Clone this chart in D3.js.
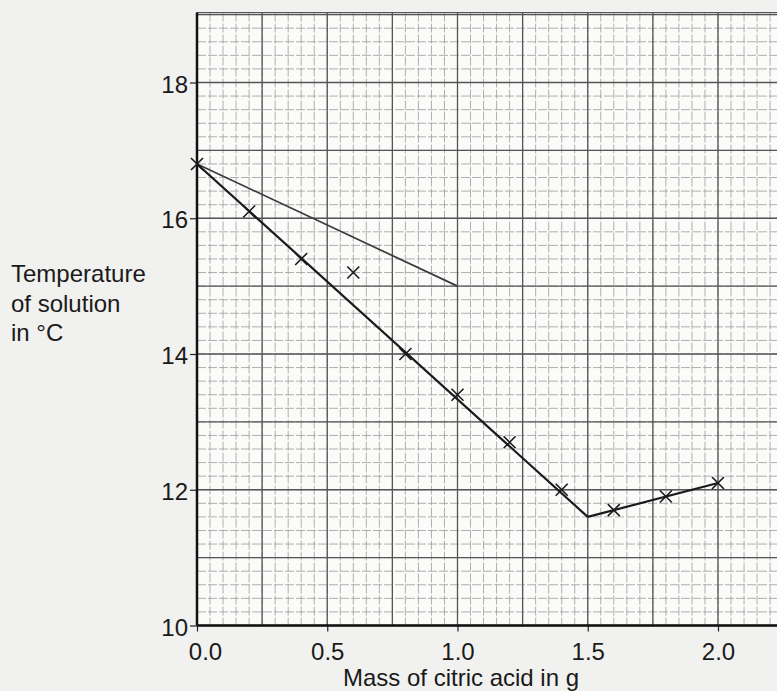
<!DOCTYPE html>
<html>
<head>
<meta charset="utf-8">
<script src="https://cdn.jsdelivr.net/npm/d3@7"></script>
<style>
  html, body { margin: 0; padding: 0; background: #f1f1ef; }
  svg { display: block; font-family: "Liberation Sans", Arial, sans-serif; }
</style>
</head>
<body>
<div id="chart"></div>
<script>
// readings off the graph paper
const mass = [0.0, 0.2, 0.4, 0.6, 0.8, 1.0, 1.2, 1.4, 1.6, 1.8, 2.0];
const temp = [16.8, 16.1, 15.4, 15.2, 14.0, 13.4, 12.7, 12.0, 11.7, 11.9, 12.1];

// hand-drawn lines of best fit
const fallLine = [[0.0, 16.8], [1.5, 11.6]];
const riseLine = [[1.5, 11.6], [2.0, 12.1]];
const roughLine = [[0.0, 16.8], [1.0, 15.0]];

const xTicks = [0.0, 0.5, 1.0, 1.5, 2.0];
const yTicks = [10, 12, 14, 16, 18];

const W = 777, H = 691;
const FONT = "Liberation Sans, Arial, sans-serif";

const x = d3.scaleLinear().domain([0, 2]).range([197, 718]);
const y = d3.scaleLinear().domain([10, 18]).range([625.5, 82.5]);
const xMax = x.invert(W + 5);
const yTop = 19.03;

const svg = d3.select("#chart").append("svg")
  .attr("width", W)
  .attr("height", H)
  .attr("viewBox", [0, 0, W, H]);

svg.append("rect")
  .attr("x", x(0))
  .attr("y", y(yTop))
  .attr("width", W - x(0))
  .attr("height", y(10) - y(yTop))
  .attr("fill", "#fbfbfa");

const gGrid = svg.append("g");

// minor grid: 0.05 g and 0.2 °C
const xMinor = d3.range(0, xMax, 0.05);
const yMinor = d3.range(10, yTop, 0.2);

gGrid.selectAll(".vminor").data(xMinor).join("line")
  .attr("x1", d => x(d)).attr("x2", d => x(d))
  .attr("y1", y(yTop)).attr("y2", y(10))
  .attr("stroke", "#9c9c9c")
  .attr("stroke-width", 0.8)
  .attr("stroke-dasharray", "9 2");

gGrid.selectAll(".hminor").data(yMinor).join("line")
  .attr("x1", x(0)).attr("x2", W)
  .attr("y1", d => y(d)).attr("y2", d => y(d))
  .attr("stroke", "#9c9c9c")
  .attr("stroke-width", 0.8)
  .attr("stroke-dasharray", "9 2");

// major grid: 0.25 g and 1 °C, plus the top edge of the paper grid
const xMajor = d3.range(0, xMax, 0.25);
const yMajor = d3.range(10, 19.001, 1).concat([yTop]);

gGrid.selectAll(".vmajor").data(xMajor).join("line")
  .attr("x1", d => x(d)).attr("x2", d => x(d))
  .attr("y1", y(yTop)).attr("y2", y(10))
  .attr("stroke", "#555")
  .attr("stroke-width", 1.3);

gGrid.selectAll(".hmajor").data(yMajor).join("line")
  .attr("x1", x(0)).attr("x2", W)
  .attr("y1", d => y(d)).attr("y2", d => y(d))
  .attr("stroke", "#555")
  .attr("stroke-width", 1.3);

// axes
const yAxis = d3.axisLeft(y)
  .tickValues(yTicks)
  .tickFormat(d3.format("d"))
  .tickSize(7)
  .tickPadding(2);

const gy = svg.append("g")
  .attr("transform", `translate(${x(0)},0)`)
  .call(yAxis);
gy.select(".domain").remove();
gy.selectAll(".tick line").attr("stroke", "#222").attr("stroke-width", 1.2);
gy.selectAll(".tick text")
  .attr("font-size", 24)
  .attr("dy", "0.4em")
  .attr("fill", "#1a1a1a")
  .attr("font-family", FONT);

const xAxis = d3.axisBottom(x)
  .tickValues(xTicks)
  .tickFormat(d3.format(".1f"))
  .tickSize(6)
  .tickPadding(11);

const gx = svg.append("g")
  .attr("transform", `translate(0,${y(10)})`)
  .call(xAxis);
gx.select(".domain").remove();
gx.selectAll(".tick line").attr("stroke", "#222").attr("stroke-width", 1.2);
gx.selectAll(".tick text")
  .attr("font-size", 24)
  .attr("fill", "#1a1a1a")
  .attr("font-family", FONT);
// the "0.0" label sits clear of the corner
gx.selectAll(".tick text").filter(d => d === 0).attr("dx", 8);

svg.append("line")
  .attr("x1", x(0)).attr("x2", x(0))
  .attr("y1", y(yTop)).attr("y2", y(10))
  .attr("stroke", "#111").attr("stroke-width", 2.5);

svg.append("line")
  .attr("x1", x(0)).attr("x2", W)
  .attr("y1", y(10)).attr("y2", y(10))
  .attr("stroke", "#111").attr("stroke-width", 2.5);

// lines of best fit
const line = d3.line().x(d => x(d[0])).y(d => y(d[1]));

svg.append("path")
  .datum(roughLine)
  .attr("d", line)
  .attr("fill", "none")
  .attr("stroke", "#3a3a3a")
  .attr("stroke-width", 1.7);

[fallLine, riseLine].forEach(seg => {
  svg.append("path")
    .datum(seg)
    .attr("d", line)
    .attr("fill", "none")
    .attr("stroke", "#1a1a1a")
    .attr("stroke-width", 2.2);
});

// plotted crosses
const r = 6;
const pts = mass.map((m, i) => ({ m, t: temp[i] }));
const gPts = svg.append("g")
  .attr("stroke", "#1a1a1a")
  .attr("stroke-width", 1.6);

gPts.selectAll("path").data(pts).join("path")
  .attr("d", d => {
    const cx = x(d.m), cy = y(d.t);
    return `M${cx - r},${cy - r}L${cx + r},${cy + r}M${cx - r},${cy + r}L${cx + r},${cy - r}`;
  });

// axis titles
svg.append("text")
  .attr("x", 461)
  .attr("y", 686)
  .attr("text-anchor", "middle")
  .attr("font-size", 24)
  .attr("fill", "#1a1a1a")
  .text("Mass of citric acid in g");

const yTitle = svg.append("text")
  .attr("x", 11)
  .attr("y", 282)
  .attr("font-size", 24)
  .attr("fill", "#1a1a1a");

["Temperature", "of solution", "in °C"].forEach((s, i) => {
  yTitle.append("tspan")
    .attr("x", 11)
    .attr("dy", i === 0 ? 0 : 29.5)
    .text(s);
});
</script>
</body>
</html>
